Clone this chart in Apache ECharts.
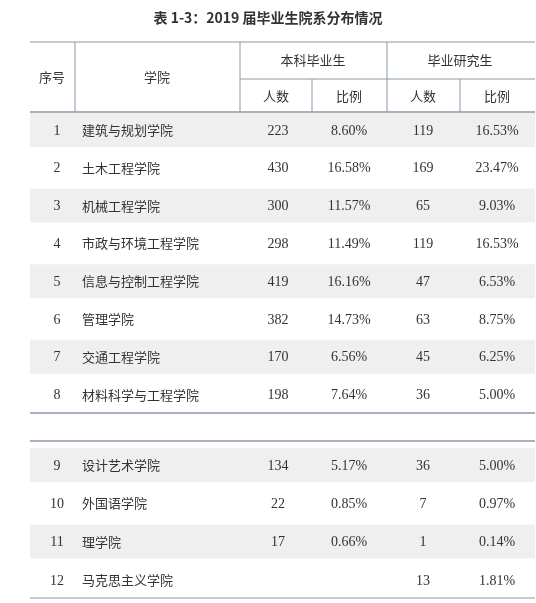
<!DOCTYPE html>
<html><head><meta charset="utf-8">
<script src="https://cdn.jsdelivr.net/npm/echarts@6/dist/echarts.min.js"></script>
<style>html,body{margin:0;padding:0;background:#fff}#c{width:536px;height:603px}</style>
</head><body><div id="c"></div>
<script>
const title = '表 1-3：2019 届毕业生院系分布情况';
const ids = ['1','2','3','4','5','6','7','8','9','10','11','12'];
const colleges = ['建筑与规划学院','土木工程学院','机械工程学院','市政与环境工程学院','信息与控制工程学院','管理学院','交通工程学院','材料科学与工程学院','设计艺术学院','外国语学院','理学院','马克思主义学院'];
const ugCount = ['223','430','300','298','419','382','170','198','134','22','17',''];
const ugPct = ['8.60%','16.58%','11.57%','11.49%','16.16%','14.73%','6.56%','7.64%','5.17%','0.85%','0.66%',''];
const gCount = ['119','169','65','119','47','63','45','36','36','7','1','13'];
const gPct = ['16.53%','23.47%','9.03%','16.53%','6.53%','8.75%','6.25%','5.00%','5.00%','0.97%','0.14%','1.81%'];

// layout
const colEdges = [30,75,240,312,387,460,535];
const colText = [57,82,278,349,423,497];
function rowCenter(i){ return i<8 ? 130+i*37.8 : 465+(i-8)*38.3; }
const LINE='#8a98a8', CJK='"Noto Sans CJK SC"', SERIF='"Liberation Serif","Noto Sans CJK SC"';

const chart = echarts.init(document.getElementById('c'));
const rows = ids.map((d,i)=>[i, d, colleges[i], ugCount[i], ugPct[i], gCount[i], gPct[i]]);

function txt(x,y,t,align,font,size,weight){
  return {type:'text',x:x,y:y,style:{text:t,x:0,y:0,align:align||'center',verticalAlign:'middle',fill:'#333',font:(weight||'normal')+' '+(size||13)+'px '+(font||CJK)}};
}
chart.setOption({
  animation:false,
  grid:{left:0,right:0,top:0,bottom:0},
  xAxis:{type:'value',min:0,max:536,show:false},
  yAxis:{type:'value',min:0,max:603,inverse:true,show:false},
  series:[{
    type:'custom',
    data:rows,
    renderItem:function(params,api){
      const i=api.value(0);
      const cy=api.coord([0,rowCenter(i)])[1];
      const kids=[];
      if(i%2===0){
        const a=api.coord([colEdges[0],rowCenter(i)-17]);
        const b=api.coord([colEdges[6],rowCenter(i)+17]);
        kids.push({type:'rect',shape:{x:a[0],y:a[1],width:b[0]-a[0],height:b[1]-a[1]},style:{fill:'#efefef'}});
      }
      const vals=[rows[i][1],rows[i][2],rows[i][3],rows[i][4],rows[i][5],rows[i][6]];
      vals.forEach((v,k)=>{
        const x=api.coord([colText[k],0])[0];
        if(k===1) kids.push(txt(x,cy,v,'left',CJK,13));
        else kids.push(txt(x,cy+1,v,'center',SERIF,14));
      });
      return {type:'group',children:kids};
    }
  },{
    type:'custom',
    data:[[0]],
    renderItem:function(params,api){
      const kids=[];
      const p=(x,y)=>api.coord([x,y]);
      const line=(x1,y1,x2,y2,w)=>{const a=p(x1,y1),b=p(x2,y2);kids.push({type:'line',shape:{x1:a[0],y1:a[1],x2:b[0],y2:b[1]},style:{stroke:LINE,lineWidth:w||1}});};
      const t=p(268,18); kids.push(txt(t[0],t[1],title,'center',CJK,14,'bold'));
      line(30,42,535,42,1.2); line(240,79,535,79); line(30,112,535,112,1.5);
      [75,240,387].forEach(x=>line(x,42,x,112));
      [312,460].forEach(x=>line(x,79,x,112));
      line(30,413,535,413,1.5); line(30,441,535,441,1.5); line(30,598,535,598,1.2);
      const h=[[52,77,'序号'],[157,77,'学院'],[313,60,'本科毕业生'],[460,60,'毕业研究生'],[276,96,'人数'],[349,96,'比例'],[423,96,'人数'],[497,96,'比例']];
      h.forEach(e=>{const q=p(e[0],e[1]);kids.push(txt(q[0],q[1],e[2],'center',CJK,13));});
      return {type:'group',children:kids};
    }
  }]
});
</script></body></html>
